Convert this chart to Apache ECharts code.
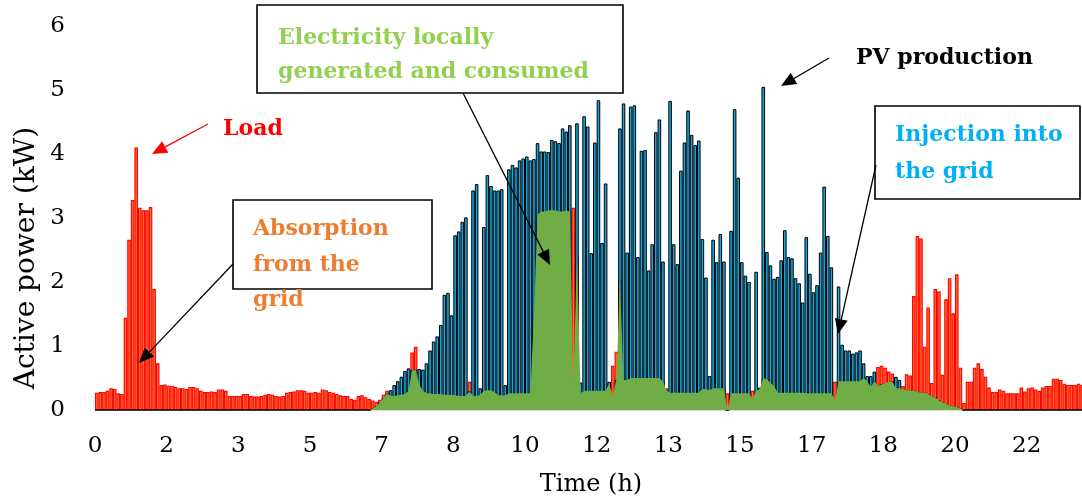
<!DOCTYPE html>
<html>
<head>
<meta charset="utf-8">
<script src="https://cdn.jsdelivr.net/npm/echarts@6/dist/echarts.min.js"></script>
<style>
html,body{margin:0;padding:0;background:#fff;}
#c{width:1082px;height:499px;}
</style>
</head>
<body>
<div id="c"></div>
<script>
// 5-minute samples, index i covers [i*5, (i+1)*5) minutes
const loadKW = [
0.27,0.28,0.28,0.30,0.34,0.33,0.26,0.25,1.44,2.66,
3.28,4.10,3.16,3.12,3.12,3.17,1.89,0.73,0.39,0.40,
0.38,0.38,0.36,0.34,0.34,0.33,0.36,0.36,0.34,0.30,
0.28,0.28,0.29,0.28,0.32,0.32,0.30,0.22,0.22,0.22,
0.22,0.25,0.25,0.22,0.21,0.21,0.22,0.24,0.25,0.24,
0.22,0.21,0.22,0.27,0.28,0.29,0.31,0.31,0.30,0.27,
0.27,0.28,0.27,0.32,0.31,0.28,0.27,0.25,0.23,0.22,
0.22,0.17,0.16,0.22,0.23,0.20,0.17,0.15,0.13,0.16,
0.24,0.30,0.22,0.22,0.23,0.24,0.25,0.30,0.90,0.99,
0.40,0.30,0.26,0.26,0.25,0.25,0.25,0.24,0.24,0.24,
0.23,0.22,0.22,0.22,0.44,0.22,0.22,0.24,0.30,0.31,
0.31,0.28,0.23,0.23,0.23,0.26,0.26,0.26,0.26,0.26,
0.26,0.26,1.48,3.05,3.10,3.10,3.12,3.12,3.12,3.10,
3.10,3.12,3.10,3.16,2.40,0.26,0.30,0.30,0.30,0.30,
0.30,0.30,0.30,0.41,0.69,0.91,2.03,0.47,0.47,0.50,
0.50,0.50,0.50,0.50,0.50,0.50,0.50,0.50,0.45,0.34,
0.27,0.27,0.27,0.27,0.27,0.27,0.27,0.27,0.27,0.33,
0.33,0.31,0.34,0.34,0.34,0.34,0.26,0.26,0.26,0.26,
0.26,0.26,0.26,0.30,0.30,0.33,0.50,0.48,0.42,0.38,
0.27,0.27,0.27,0.27,0.27,0.27,0.27,0.27,0.26,0.26,
0.26,0.26,0.26,0.26,0.26,0.26,0.44,0.45,0.45,0.45,
0.45,0.45,0.45,0.45,0.50,0.45,0.36,0.45,0.67,0.69,
0.66,0.60,0.57,0.34,0.34,0.375,0.56,0.54,1.78,2.72,
2.68,0.99,1.60,0.42,1.89,1.85,0.55,1.73,2.06,1.51,
2.12,0.66,0.11,0.44,0.44,0.66,0.73,0.64,0.52,0.35,
0.28,0.28,0.32,0.30,0.26,0.26,0.26,0.26,0.35,0.29,
0.34,0.35,0.32,0.30,0.35,0.375,0.375,0.49,0.49,0.47,
0.41,0.39,0.39,0.39,0.41,0.39
];
const pvKW = [
0,0,0,0,0,0,0,0,0,0,
0,0,0,0,0,0,0,0,0,0,
0,0,0,0,0,0,0,0,0,0,
0,0,0,0,0,0,0,0,0,0,
0,0,0,0,0,0,0,0,0,0,
0,0,0,0,0,0,0,0,0,0,
0,0,0,0,0,0,0,0,0,0,
0,0,0,0,0,0,0,0.02,0.06,0.12,
0.19,0.26,0.31,0.39,0.45,0.52,0.61,0.65,0.62,0.63,
0.64,0.63,0.73,0.93,1.07,1.15,1.33,1.80,1.83,1.48,
2.73,2.79,2.94,3.01,0.29,3.43,3.53,0.34,2.86,3.67,
3.50,3.43,3.43,3.45,0.39,3.76,3.83,3.79,3.90,3.93,
3.96,3.90,3.92,4.17,4.04,4.04,4.03,4.22,4.20,4.17,
4.40,4.35,4.45,0.44,4.48,0.43,4.59,4.43,2.45,4.18,
4.84,2.61,3.54,0.44,0.22,0.47,4.40,4.79,2.46,4.74,
4.76,2.39,4.05,4.06,2.18,2.59,4.34,4.54,2.32,0.31,
4.83,2.59,2.28,3.74,4.18,4.68,4.30,4.14,4.21,2.67,
2.07,0.53,2.66,2.31,2.75,2.32,0.00,2.80,4.70,3.63,
2.31,2.10,2.00,0.18,2.16,0.35,5.05,2.47,2.26,2.05,
2.08,2.34,2.81,2.39,2.37,2.06,1.98,1.68,2.70,2.13,
1.84,1.95,2.46,3.49,2.72,2.23,0.16,1.93,1.02,0.93,
0.93,0.88,0.90,0.93,0.73,0.53,0.53,0.60,0.38,0.40,
0.42,0.44,0.45,0.52,0.47,0.33,0.31,0.31,0.30,0.28,
0.27,0.27,0.25,0.22,0.20,0.15,0.12,0.10,0.07,0.06,
0.05,0.02,0,0,0,0,0,0,0,0,
0,0,0,0,0,0,0,0,0,0,
0,0,0,0,0,0,0,0,0,0,
0,0,0,0,0,0
];
const tickHours = [0, 1.6667, 3.3333, 5, 6.6667, 8.3333, 10, 11.6667, 13.3333, 15, 16.6667, 18.3333, 20, 21.6667];
const tickLabels = ['0','2','3','5','7','8','10','12','13','15','17','18','20','22'];
const yTicks = [0,1,2,3,4,5,6];

const stepH = 5 / 60;
const loadData = loadKW.map((v, i) => [(i + 0.5) * stepH, v]);
const pvData = pvKW.map((v, i) => [(i + 0.5) * stepH, v]);
// electricity locally generated and consumed = min(load, PV)
const selfData = loadKW.map((v, i) => [(i + 0.5) * stepH, Math.min(v, pvKW[i])]);

const FONT = "'DejaVu Serif', 'Liberation Serif', serif";

function arrow(x1, y1, x2, y2, color) {
  const ang = Math.atan2(y2 - y1, x2 - x1);
  const L = 15, W = 6.5;
  const bx = x2 - L * Math.cos(ang), by = y2 - L * Math.sin(ang);
  const px = -Math.sin(ang) * W, py = Math.cos(ang) * W;
  return [
    { type: 'line', shape: { x1: x1, y1: y1, x2: bx, y2: by }, style: { stroke: color, lineWidth: 1.3 }, z: 100 },
    { type: 'polygon', shape: { points: [[x2, y2], [bx + px, by + py], [bx - px, by - py]] }, style: { fill: color }, z: 100 }
  ];
}
function box(x, y, w, h) {
  return { type: 'rect', shape: { x: x, y: y, width: w, height: h }, style: { fill: '#fff', stroke: '#000', lineWidth: 1.6 }, z: 90 };
}
function label(text, x, y, color, size, weight, align) {
  return { type: 'text', x: x, y: y, z: 110, style: { text: text, fill: color, font: (weight || 'bold') + ' ' + size + 'px ' + FONT, textAlign: align || 'left', textVerticalAlign: 'middle' } };
}

const chart = echarts.init(document.getElementById('c'), null, { renderer: 'canvas' });
chart.setOption({
  animation: false,
  backgroundColor: '#fff',
  grid: { left: 95, right: -45, top: 26, bottom: 89, containLabel: false, outerBoundsMode: 'none' },
  xAxis: {
    type: 'value', min: 0, max: 24,
    axisLine: { show: true, lineStyle: { color: '#D9D9D9', width: 1.2 } },
    axisTick: { show: false },
    splitLine: { show: false },
    axisLabel: {
      customValues: tickHours,
      margin: 25,
      color: '#000',
      fontFamily: FONT,
      fontSize: 23,
      formatter: function (v) {
        let best = 0, d = 1e9;
        tickHours.forEach((t, k) => { if (Math.abs(t - v) < d) { d = Math.abs(t - v); best = k; } });
        return tickLabels[best];
      }
    }
  },
  yAxis: {
    type: 'value', min: 0, max: 6, interval: 1,
    axisLine: { show: false },
    axisTick: { show: false },
    splitLine: { show: false },
    axisLabel: { color: '#000', fontFamily: FONT, fontSize: 23, margin: 30,
      formatter: v => String(yTicks[Math.round(v)]) }
  },
  series: [
    {
      name: 'Load', type: 'bar', data: loadData, barWidth: 3.58, barGap: '-100%', z: 2,
      itemStyle: { color: '#FF6A2A', borderColor: '#FF0000', borderWidth: 1.1 }
    },
    {
      name: 'PV production', type: 'bar', data: pvData, barWidth: 3.58, barGap: '-100%', z: 3,
      itemStyle: { color: '#13A6DE', borderColor: '#000', borderWidth: 1 }
    },
    {
      name: 'Self consumption', type: 'line', data: selfData, z: 4,
      showSymbol: false, symbol: 'none', smooth: false,
      lineStyle: { width: 0 },
      areaStyle: { color: '#70AD47', opacity: 1 }
    }
  ],
  graphic: [
    box(257, 5, 366, 88),
    label('Electricity locally', 278, 38, '#92D050', 22),
    label('generated and consumed', 278, 72, '#92D050', 22),
    box(233, 200, 199, 89),
    label('Absorption', 253, 229, '#ED7D31', 22),
    label('from the', 253, 265, '#ED7D31', 22),
    label('grid', 253, 300, '#ED7D31', 22),
    box(875, 106, 205, 93),
    label('Injection into', 895, 135, '#00B0F0', 22),
    label('the grid', 895, 172, '#00B0F0', 22),
    label('Load', 223, 129, '#FF0000', 22),
    label('PV production', 856, 58, '#000', 22),
    label('Time (h)', 591, 485, '#000', 24, 'normal', 'center'),
    { type: 'text', x: 27, y: 258, rotation: Math.PI / 2, z: 110,
      style: { text: 'Active power (kW)', fill: '#000', font: 'normal 28px ' + FONT, textAlign: 'center', textVerticalAlign: 'middle' } },
    ...arrow(208, 124, 152, 154, '#FF0000'),
    ...arrow(233, 264, 139, 363, '#000'),
    ...arrow(463, 93, 550, 265, '#000'),
    ...arrow(829, 58, 781, 86, '#000'),
    ...arrow(876, 165, 838, 334, '#000')
  ]
});
</script>
</body>
</html>
